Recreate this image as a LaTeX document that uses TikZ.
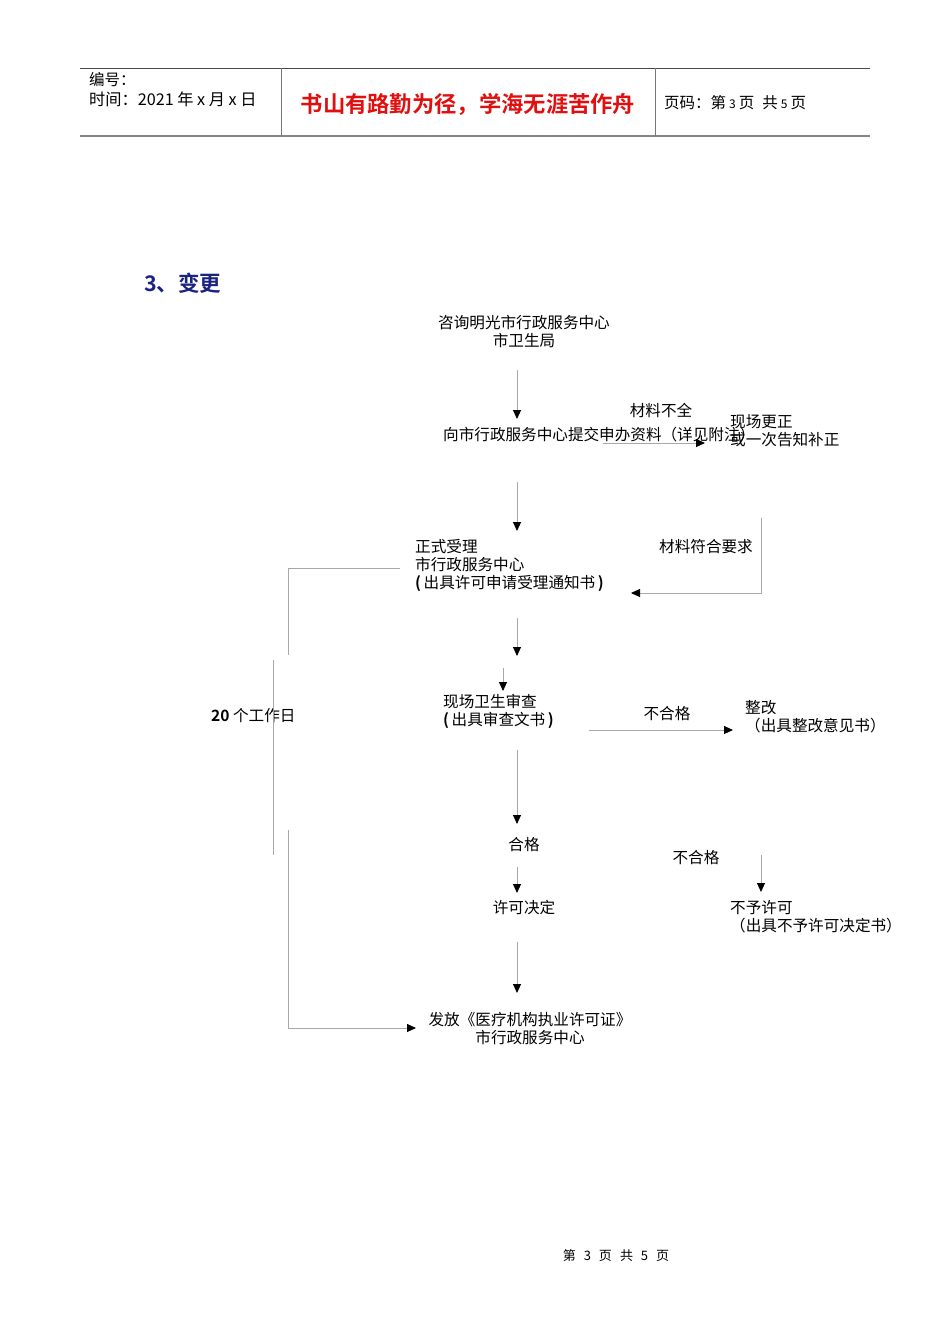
\documentclass[tikz,border=0pt]{standalone}
\usepackage{fontspec}
\setmainfont{Noto Sans CJK SC}[BoldFont={Noto Sans CJK SC Bold}]
\usepackage{tikz}
\usetikzlibrary{
  arrows.meta,
  positioning,
  calc
}
\definecolor{hdRed}{HTML}{E01010}
\definecolor{hdNavy}{HTML}{1A2380}
\definecolor{lnGray}{HTML}{A8A8A8}
\definecolor{lnDark}{HTML}{4A4A4A}
\tikzset{
  flowtext/.style={inner sep=0pt, font=\fontsize{15.6}{18}\selectfont, align=left},
  flowmid/.style={flowtext, align=center},
  flow/.style={draw=lnGray, line width=0.9pt,
    -{Triangle[length=9pt, width=8pt, color=black, fill=black]}},
  bracketline/.style={draw=lnGray, line width=0.9pt},
  hdrline/.style={draw=lnDark, line width=0.9pt},
  hdrbase/.style={draw=lnGray!80!black, line width=2pt},
  hdrtext/.style={inner sep=0pt, font=\fontsize{15.5}{19}\selectfont, anchor=west, align=left}
}
\newcommand{\smalldigit}[1]{\hspace{3pt}{\fontsize{12}{14}\selectfont #1}\hspace{3pt}}

\begin{document}
\begin{tikzpicture}[x=1pt, y=-1pt]
  \useasboundingbox (0,0) rectangle (950,1344);
  % header
  \draw[hdrline] (80,68) -- (870,68);
  \draw[hdrbase] (80,136) -- (870,136);
  \draw[bracketline, draw=lnGray!70!black] (281,68) -- (281,136);
  \draw[bracketline, draw=lnGray!70!black] (655,68) -- (655,136);
  \node[hdrtext] (hdNo) at (89,80) {编号：};
  \node[hdrtext, font=\fontsize{16.2}{19}\selectfont] (hdDate) at (89,99) {时间：2021 年 x 月 x 日};
  \node[inner sep=0pt, font=\fontsize{22.3}{24}\selectfont\bfseries, text=hdRed] (hdMotto) at (468,104)
    {书山有路勤为径，学海无涯苦作舟};
  \node[hdrtext] (hdPage) at (664,103) {页码：第\smalldigit{3}页\hspace{8pt}共\smalldigit{5}页};
  % section title
  \node[inner sep=0pt, anchor=west, font=\fontsize{21.5}{24}\selectfont\bfseries, text=hdNavy] (title) at (144,283) {3、变更};

  % flow steps
  \node[flowmid] (consult) at (524,332) {咨询明光市行政服务中心\\市卫生局};
  \node[flowtext, anchor=west] (submit) at (443,435) {向市行政服务中心提交申办资料（详见附注）};
  \node[flowtext, anchor=west] (correct) at (730,431) {现场更正\\或一次告知补正};
  \node[flowtext, anchor=west] (accept) at (415,565)
    {正式受理\\市行政服务中心\\\textbf{(}\,出具许可申请受理通知书\,\textbf{)}};
  \node[flowtext, anchor=west] (inspect) at (443,711) {现场卫生审查\\\textbf{(}\,出具审查文书\,\textbf{)}};
  \node[flowtext, anchor=west] (rectify) at (745,717) {整改\\（出具整改意见书）};
  \node[flowmid] (pass) at (524,845) {合格};
  \node[flowmid] (decide) at (524,908) {许可决定};
  \node[flowtext, anchor=west] (refuse) at (730,917) {不予许可\\（出具不予许可决定书）};
  \node[flowmid] (issue) at (530,1029) {发放《医疗机构执业许可证》\\市行政服务中心};

  % labels
  \node[flowmid] (lackMat) at (661,410) {材料不全};
  \node[flowmid] (okMat) at (706,547) {材料符合要求};
  \node[flowmid] (failA) at (667,714) {不合格};
  \node[flowmid] (failB) at (696,858) {不合格};
  \node[flowtext, anchor=west] (days) at (211,716) {\textbf{20} 个工作日};

  % connector ends
  \coordinate (c1a) at (517,370);  \coordinate (c1b) at (517,419);
  \coordinate (c2a) at (603,443);  \coordinate (c2b) at (705,443);
  \coordinate (c3a) at (517,482);  \coordinate (c3b) at (517,531);
  \coordinate (c4a) at (761,518);  \coordinate (c4b) at (761,593);  \coordinate (c4c) at (631,593);
  \coordinate (c5a) at (517,618);  \coordinate (c5b) at (517,656);
  \coordinate (c6a) at (503,668);  \coordinate (c6b) at (503,691);
  \coordinate (c7a) at (589,730);  \coordinate (c7b) at (733,730);
  \coordinate (c8a) at (517,750);  \coordinate (c8b) at (517,824);
  \coordinate (c9a) at (517,867);  \coordinate (c9b) at (517,893);
  \coordinate (c10a) at (761,855); \coordinate (c10b) at (761,892);
  \coordinate (c11a) at (517,942); \coordinate (c11b) at (517,993);
  \coordinate (b1) at (400,568);   \coordinate (b2) at (288,568);   \coordinate (b3) at (288,655);
  \coordinate (b4) at (273,660);   \coordinate (b5) at (273,855);
  \coordinate (b6) at (288,830);   \coordinate (b7) at (288,1028);  \coordinate (b8) at (416,1028);

  \draw[flow] (c1a) -- (c1b);
  \draw[flow] (c2a) -- (c2b);
  \draw[flow] (c3a) -- (c3b);
  \draw[flow] (c4a) -- (c4b) -- (c4c);
  \draw[flow] (c5a) -- (c5b);
  \draw[flow] (c6a) -- (c6b);
  \draw[flow] (c7a) -- (c7b);
  \draw[flow] (c8a) -- (c8b);
  \draw[flow] (c9a) -- (c9b);
  \draw[flow] (c10a) -- (c10b);
  \draw[flow] (c11a) -- (c11b);
  % 20-day bracket
  \draw[bracketline] (b1) -- (b2) -- (b3);
  \draw[bracketline] (b4) -- (b5);
  \draw[flow] (b6) -- (b7) -- (b8);

  % footer
  \node[inner sep=0pt, font=\fontsize{13}{15}\selectfont] (footer) at (616,1256)
    {第\hspace{8pt}3\hspace{8pt}页\hspace{8pt}共\hspace{8pt}5\hspace{8pt}页};
\end{tikzpicture}
\end{document}
